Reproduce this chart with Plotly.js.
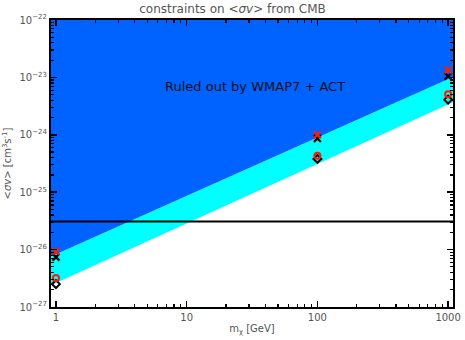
<!DOCTYPE html>
<html>
<head>
<meta charset="utf-8">
<script src="https://cdn.plot.ly/plotly-3.0.1.min.js"></script>
<style>html,body{margin:0;padding:0;background:#fff;}#chart{width:465px;height:340px;}</style>
</head>
<body>
<div id="chart"></div>
<script>
// Band edges (WMAP7 + ACT constraint)
const bandMass = [0.916, 1090];
const bandUpper = [7.6e-27, 1.02e-23];
const bandLower = [2.4e-27, 3.7e-24];
const plotTop = [1e-22, 1e-22];

// Thermal relic cross-section line
const thermalMass = [0.916, 1090];
const thermalSigma = [3.1e-26, 3.1e-26];

// Individual channel points
const pointMass = [1, 100, 1000];
const redX = [9.3e-27, 1.0e-24, 1.35e-23];
const blackX = [7.4e-27, 8.6e-25, 1.05e-23];
const redCircle = [3.2e-27, 4.3e-25, 5.1e-24];
const blackDiamond = [2.5e-27, 3.8e-25, 4.1e-24];

const xTickVals = [1, 10, 100, 1000];
const xTickText = ['1', '10', '100', '1000'];
const yTickVals = [1e-27, 1e-26, 1e-25, 1e-24, 1e-23, 1e-22];
const yTickText = ['10<sup>−27</sup>', '10<sup>−26</sup>', '10<sup>−25</sup>', '10<sup>−24</sup>', '10<sup>−23</sup>', '10<sup>−22</sup>'];

const BLUE = '#0062FF';
const CYAN = '#00FFFF';
const FONT = 'DejaVu Sans, Liberation Sans, sans-serif';

const traces = [
  {x: bandMass, y: bandLower, mode: 'lines', line: {width: 0, color: CYAN}, hoverinfo: 'skip'},
  {x: bandMass, y: bandUpper, mode: 'lines', fill: 'tonexty', fillcolor: CYAN, line: {width: 0, color: CYAN}, hoverinfo: 'skip'},
  {x: bandMass, y: plotTop, mode: 'lines', fill: 'tonexty', fillcolor: BLUE, line: {width: 0, color: BLUE}, hoverinfo: 'skip'},
  {x: thermalMass, y: thermalSigma, mode: 'lines', line: {width: 2, color: '#000'}},
  {x: pointMass, y: blackDiamond, mode: 'markers', marker: {symbol: 'diamond-open', size: 6, color: '#000', line: {width: 2, color: '#000'}}},
  {x: pointMass, y: redCircle, mode: 'markers', marker: {symbol: 'circle-open', size: 6, color: '#ff1a00', line: {width: 2, color: '#ff1a00'}}},
  {x: pointMass, y: blackX, mode: 'markers', marker: {symbol: 'x-thin-open', size: 7, color: '#000', line: {width: 2.2, color: '#000'}}},
  {x: pointMass, y: redX, mode: 'markers', marker: {symbol: 'x-thin-open', size: 7, color: '#ff1a00', line: {width: 2.2, color: '#ff1a00'}}}
];

const axisCommon = {
  type: 'log', showgrid: false, zeroline: false,
  showline: true, linecolor: '#000', linewidth: 2, mirror: 'allticks',
  ticks: 'inside', ticklen: 6, tickwidth: 1.5, tickcolor: '#000',
  minor: {ticks: 'inside', ticklen: 3, tickwidth: 1.2, tickcolor: '#000', dtick: 'D1', showgrid: false},
  tickfont: {family: FONT, size: 10, color: '#555'}
};

const layout = {
  width: 465, height: 340,
  margin: {l: 51, r: 12, t: 20, b: 33},
  paper_bgcolor: '#fff', plot_bgcolor: '#fff',
  showlegend: false,
  title: {text: 'constraints on &lt;<i>σv</i>&gt; from CMB', font: {family: FONT, size: 12, color: '#555'}, x: 0.5, xanchor: 'center', y: 0.975, yanchor: 'middle'},
  xaxis: Object.assign({}, axisCommon, {
    range: [Math.log10(0.916), Math.log10(1090)],
    tickvals: xTickVals, ticktext: xTickText,
    title: {text: 'm<sub>χ</sub> [GeV]', font: {family: FONT, size: 10, color: '#555'}, standoff: 3}
  }),
  yaxis: Object.assign({}, axisCommon, {
    range: [-27, -22],
    tickvals: yTickVals, ticktext: yTickText,
    title: {text: '&lt;<i>σv</i>&gt; [cm<sup>3</sup>s<sup>-1</sup>]', font: {family: FONT, size: 10, color: '#555'}, standoff: 6}
  }),
  annotations: [{
    xref: 'paper', yref: 'paper', x: 0.508, y: 0.8, showarrow: false,
    text: 'Ruled out by WMAP7 + ACT', font: {family: FONT, size: 13, color: '#111'}
  }]
};

Plotly.newPlot('chart', traces, layout, {displayModeBar: false, staticPlot: true});
</script>
</body>
</html>
